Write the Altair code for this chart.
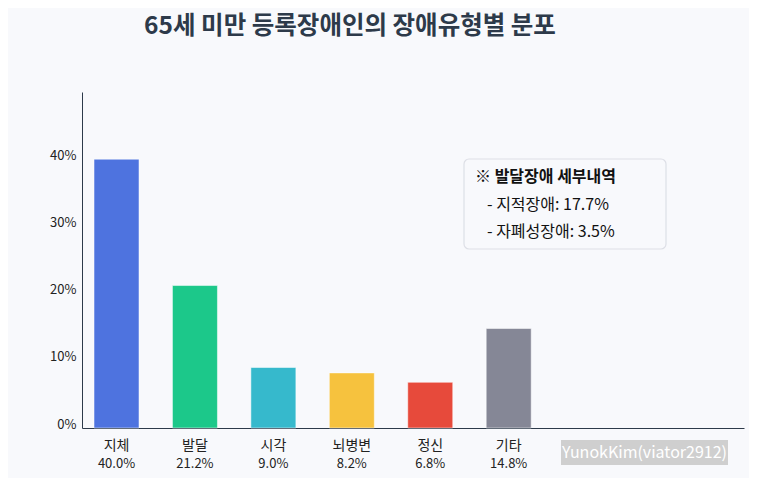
import altair as alt
import pandas as pd

categories = ["지체", "발달", "시각", "뇌병변", "정신", "기타"]
values = [40.0, 21.2, 9.0, 8.2, 6.8, 14.8]
colors = ["#4e73df", "#1cc88a", "#36b9cc", "#f6c23e", "#e74a3b", "#858796"]
y_ticks = [0, 10, 20, 30, 40]
note_title = "※ 발달장애 세부내역"
note_lines = ["- 지적장애: 17.7%", "- 자폐성장애: 3.5%"]
title_text = "65세 미만 등록장애인의 장애유형별 분포"
watermark = "YunokKim(viator2912)"

FONT = "Noto Sans CJK KR"
W, H = 662, 336

df = pd.DataFrame({
    "idx": list(range(len(categories))),
    "cat": categories,
    "val": values,
    "pct": [f"{v:.1f}%" for v in values],
})

xs = alt.Scale(domain=[-0.44, 8.0], nice=False, zero=False, padding=0)
ys = alt.Scale(domain=[0, 50], nice=False, padding=0)

bars = alt.Chart(df).mark_bar(size=45, stroke="white", strokeOpacity=0.5, strokeWidth=1).encode(
    x=alt.X("idx:Q", scale=xs, axis=alt.Axis(labels=False, ticks=False, grid=False, title=None,
                                             domainColor="#2d3a4a", domainWidth=1)),
    y=alt.Y("val:Q", scale=ys, axis=alt.Axis(values=y_ticks, labelExpr="datum.value + '%'",
                                             ticks=False, grid=False, title=None, labelPadding=6,
                                             labelOffset=-4, labelFontSize=13, labelColor="#222222",
                                             labelFont=FONT, domainColor="#2d3a4a", domainWidth=1)),
    color=alt.Color("cat:N", scale=alt.Scale(domain=categories, range=colors), legend=None),
)

cat_text = alt.Chart(df).mark_text(font=FONT, fontSize=14, color="#222222", baseline="middle").encode(
    x=alt.X("idx:Q", scale=xs), y=alt.value(H + 18), text="cat:N"
)
pct_text = alt.Chart(df).mark_text(font=FONT, fontSize=13, color="#222222", baseline="middle").encode(
    x=alt.X("idx:Q", scale=xs), y=alt.value(H + 36), text="pct:N"
)

title = alt.Chart(pd.DataFrame({"t": [title_text]})).mark_text(
    font=FONT, fontSize=24.5, fontWeight="bold", color="#2d3a4a", baseline="middle", align="center"
).encode(x=alt.value(268), y=alt.value(-65), text="t:N")

box = alt.Chart(pd.DataFrame({"a": [0]})).mark_rect(
    fill="#f8f9fc", stroke="#dddfe6", strokeWidth=1.2, cornerRadius=5
).encode(x=alt.value(382), x2=alt.value(584), y=alt.value(67), y2=alt.value(157))

note_df = pd.DataFrame({"t": [note_title]})
note_head = alt.Chart(note_df).mark_text(
    font=FONT, fontSize=16, fontWeight="bold", color="#111111", align="left", baseline="middle"
).encode(x=alt.value(393), y=alt.value(85), text="t:N")

lines_df = pd.DataFrame({"t": note_lines})
note_body1 = alt.Chart(lines_df.iloc[[0]]).mark_text(
    font=FONT, fontSize=16, color="#111111", align="left", baseline="middle"
).encode(x=alt.value(405), y=alt.value(113), text="t:N")
note_body2 = alt.Chart(lines_df.iloc[[1]]).mark_text(
    font=FONT, fontSize=16, color="#111111", align="left", baseline="middle"
).encode(x=alt.value(405), y=alt.value(140), text="t:N")

wm_box = alt.Chart(pd.DataFrame({"a": [0]})).mark_rect(fill="#cfcfcf").encode(
    x=alt.value(479), x2=alt.value(646), y=alt.value(348), y2=alt.value(373)
)
wm_text = alt.Chart(pd.DataFrame({"t": [watermark]})).mark_text(
    font=FONT, fontSize=16, color="white", align="center", baseline="middle"
).encode(x=alt.value(562.5), y=alt.value(360.5), text="t:N")

chart = alt.layer(
    bars, cat_text, pct_text, title, box, note_head, note_body1, note_body2, wm_box, wm_text
).properties(
    width=W, height=H,
    autosize=alt.AutoSizeParams(type="none"),
    padding={"left": 74, "top": 84, "right": 5, "bottom": 50},
    background="#f8f9fc",
).configure_view(stroke=None)

chart.save("out.html", embed_options={"renderer": "svg", "actions": False})
